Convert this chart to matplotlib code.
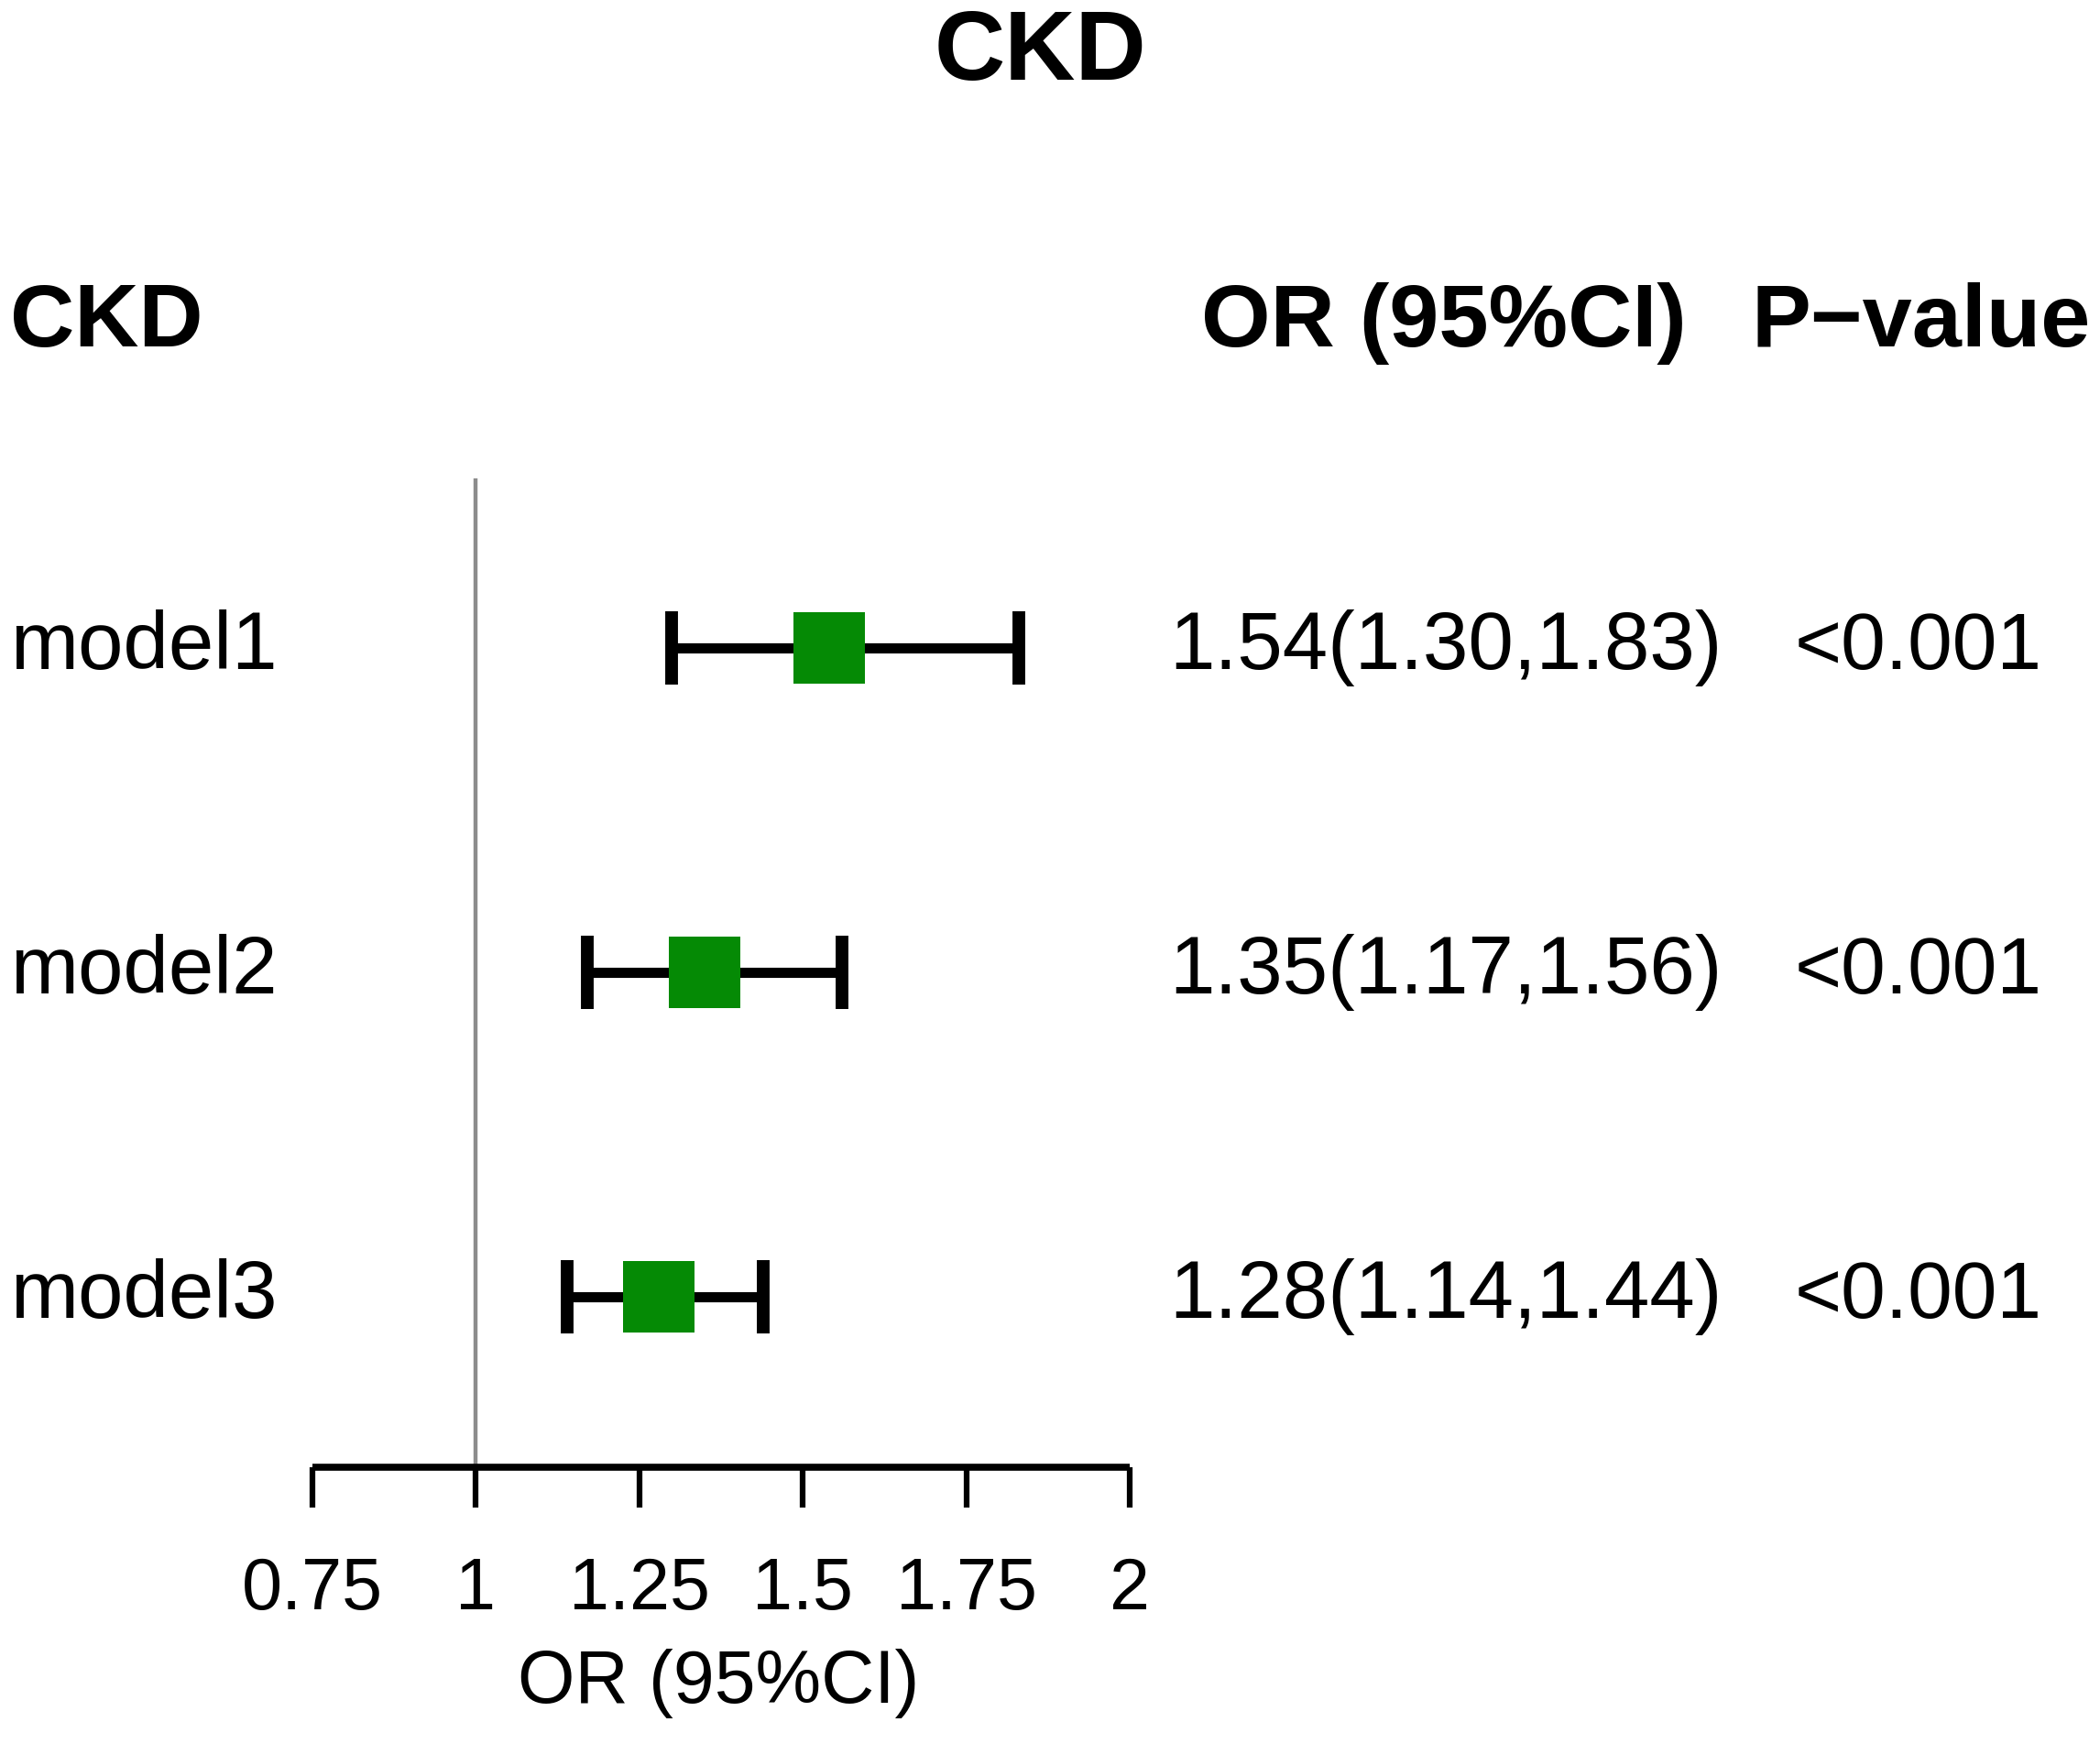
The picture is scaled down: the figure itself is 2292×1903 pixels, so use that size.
import matplotlib
matplotlib.use("Agg")
import matplotlib.pyplot as plt
import matplotlib.transforms as mtransforms

plt.rcParams['font.family'] = ['Liberation Sans', 'DejaVu Sans']

models = ["model1", "model2", "model3"]
or_vals = [1.54, 1.35, 1.28]
ci_low = [1.30, 1.17, 1.14]
ci_high = [1.83, 1.56, 1.44]
or_text = ["1.54(1.30,1.83)", "1.35(1.17,1.56)", "1.28(1.14,1.44)"]
p_text = ["<0.001", "<0.001", "<0.001"]
xticks = [0.75, 1, 1.25, 1.5, 1.75, 2]
xtick_labels = ["0.75", "1", "1.25", "1.5", "1.75", "2"]

W, H = 2292, 1903
fig = plt.figure(figsize=(W / 100, H / 100), dpi=100)
ax = fig.add_axes([341 / W, 302 / H, (1233 - 341) / W, (1381 - 302) / H])

ypos = [3, 2, 1]
ax.set_xlim(0.75, 2)
ax.set_ylim(0.475, 3.523)

ax.axvline(1, color="#8c8c8c", lw=3.2, zorder=1)

xerr = [[o - l for o, l in zip(or_vals, ci_low)], [h - o for o, h in zip(or_vals, ci_high)]]
ax.errorbar(or_vals, ypos, xerr=xerr, fmt="none", ecolor="black", elinewidth=8,
            capsize=29, capthick=10, zorder=2)
ax.scatter(or_vals, ypos, marker="s", s=56 ** 2, color="#058a05", edgecolor="none", zorder=3)

for s in ["top", "right", "left"]:
    ax.spines[s].set_visible(False)
ax.spines["bottom"].set_linewidth(5.5)
ax.spines["bottom"].set_capstyle("butt")
ax.set_yticks([])
ax.set_xticks(xticks)
ax.set_xticklabels(xtick_labels)
ax.tick_params(axis="x", direction="out", length=32, width=4.5, labelsize=57, pad=38)

ax.set_xlabel("OR (95%CI)", fontsize=58)
ax.xaxis.set_label_coords(0.497, -0.219)
ax.xaxis.label.set_va("center")

trans = mtransforms.blended_transform_factory(fig.transFigure, ax.transData)

for m, y, ot, pt in zip(models, ypos, or_text, p_text):
    ax.text(11 / W, y, m, transform=trans, fontsize=64, ha="left", va="center", clip_on=False)
    ax.text(1578 / W, y, ot, transform=trans, fontsize=64, ha="center", va="center", clip_on=False)
    ax.text(2094 / W, y, pt, transform=trans, fontsize=63, ha="center", va="center", clip_on=False)

ax.text(11 / W, 4.0, "CKD", transform=trans, fontsize=70, fontweight="bold", ha="left", va="center", clip_on=False)
ax.text(1576 / W, 4.0, "OR (95%CI)", transform=trans, fontsize=70, fontweight="bold", ha="center", va="center", clip_on=False)
ax.text(2097 / W, 4.0, "P\u2212value", transform=trans, fontsize=70, fontweight="bold", ha="center", va="center", clip_on=False)

fig.text(1136 / W, 1 - 59 / H, "CKD", fontsize=77, fontweight="bold", ha="center", va="center")

fig.savefig("out.png", dpi=100, facecolor="white")
